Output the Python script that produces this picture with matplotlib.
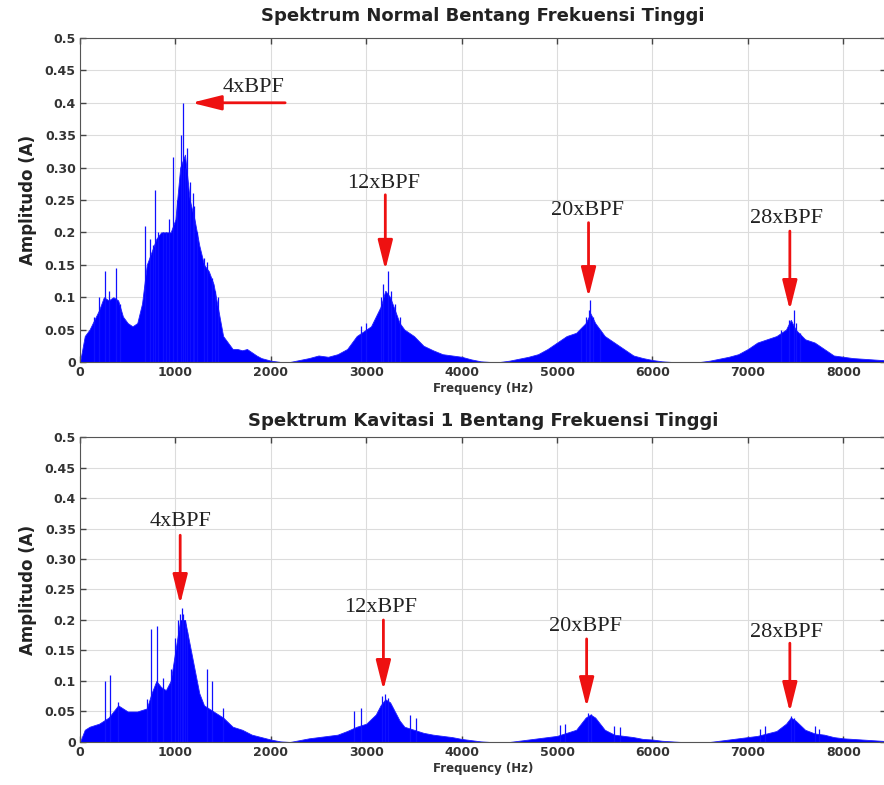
import matplotlib
matplotlib.use('Agg')
import matplotlib.pyplot as plt
import numpy as np

# spektrum normal - amplitudo envelope
freq_n = [0, 50, 100, 150, 200, 250, 300, 350, 400, 450, 500, 550, 600, 650, 700, 750, 800, 850, 900, 950,
          1000, 1050, 1100, 1150, 1200, 1250, 1300, 1350, 1400, 1450, 1500, 1550, 1600, 1650, 1700, 1750, 1800,
          1850, 1900, 1950, 2000, 2100, 2200, 2300, 2400, 2500, 2600, 2700, 2800, 2900, 3000, 3050, 3100, 3150,
          3200, 3250, 3300, 3350, 3400, 3450, 3500, 3600, 3700, 3800, 3900, 4000, 4100, 4200, 4300, 4400, 4500,
          4600, 4700, 4800, 4900, 5000, 5100, 5200, 5300, 5350, 5400, 5500, 5600, 5700, 5800, 5900, 6000, 6100,
          6200, 6500, 6600, 6700, 6800, 6900, 7000, 7100, 7200, 7300, 7400, 7450, 7500, 7600, 7700, 7800, 7900,
          8000, 8100, 8200, 8300, 8400, 8500]
amp_n = [0.0, 0.04, 0.05, 0.065, 0.08, 0.1, 0.095, 0.1, 0.095, 0.07, 0.06, 0.055, 0.06, 0.09, 0.15, 0.17, 0.19,
         0.2, 0.2, 0.2, 0.22, 0.3, 0.32, 0.25, 0.22, 0.18, 0.15, 0.14, 0.12, 0.08, 0.04, 0.03, 0.02, 0.02, 0.018,
         0.02, 0.015, 0.01, 0.006, 0.004, 0.002, 0.0, 0.0, 0.003, 0.006, 0.01, 0.008, 0.012, 0.02, 0.04, 0.05,
         0.055, 0.07, 0.085, 0.11, 0.1, 0.08, 0.06, 0.05, 0.045, 0.04, 0.025, 0.018, 0.012, 0.01, 0.008, 0.004,
         0.001, 0.0, 0.0, 0.002, 0.005, 0.008, 0.012, 0.02, 0.03, 0.04, 0.045, 0.06, 0.075, 0.06, 0.04, 0.03, 0.02,
         0.01, 0.006, 0.003, 0.001, 0.0, 0.0, 0.002, 0.005, 0.008, 0.012, 0.02, 0.03, 0.035, 0.04, 0.05, 0.065,
         0.05, 0.035, 0.03, 0.02, 0.01, 0.008, 0.006, 0.005, 0.004, 0.003, 0.002]
# puncak tajam
spike_fn = [150, 200, 267, 300, 379, 420, 684, 730, 760, 782, 820, 870, 900, 930, 975, 1020, 1060, 1080,
            1100, 1120, 1150, 1180, 1200, 1230, 1300, 1333, 1380, 1420, 1450,
            2950, 3000, 3150, 3180, 3230, 3260, 3300, 3350,
            5250, 5300, 5330, 5350, 5380, 5450, 7350, 7430, 7480, 7500, 7550]
spike_an = [0.07, 0.1, 0.14, 0.11, 0.145, 0.09, 0.21, 0.19, 0.18, 0.265, 0.2, 0.2, 0.2, 0.22, 0.317, 0.25,
            0.35, 0.40, 0.3, 0.33, 0.278, 0.26, 0.24, 0.2, 0.16, 0.155, 0.13, 0.11, 0.1,
            0.055, 0.06, 0.1, 0.12, 0.14, 0.11, 0.09, 0.07,
            0.05, 0.07, 0.08, 0.095, 0.07, 0.05, 0.05, 0.065, 0.08, 0.06, 0.045]

# spektrum kavitasi 1
freq_k = [0, 50, 100, 200, 300, 350, 400, 450, 500, 600, 700, 750, 800, 850, 900, 950, 1000, 1050, 1100, 1150,
          1200, 1250, 1300, 1350, 1400, 1450, 1500, 1600, 1700, 1800, 1900, 2000, 2100, 2200, 2300, 2400, 2500,
          2600, 2700, 2800, 2900, 3000, 3100, 3150, 3200, 3250, 3300, 3350, 3400, 3500, 3600, 3700, 3800, 3900,
          4000, 4100, 4200, 4300, 4500, 4600, 4700, 4800, 4900, 5000, 5100, 5200, 5300, 5350, 5400, 5500, 5600,
          5700, 5800, 5900, 6000, 6100, 6200, 6300, 6600, 6700, 6800, 6900, 7000, 7100, 7200, 7300, 7400, 7450,
          7500, 7600, 7700, 7800, 7900, 8000, 8100, 8200, 8300, 8400, 8500]
amp_k = [0.0, 0.02, 0.025, 0.03, 0.04, 0.05, 0.06, 0.055, 0.05, 0.05, 0.055, 0.08, 0.1, 0.09, 0.085, 0.1, 0.15,
         0.2, 0.2, 0.16, 0.12, 0.08, 0.06, 0.055, 0.05, 0.045, 0.04, 0.025, 0.02, 0.012, 0.008, 0.004, 0.001, 0.0,
         0.003, 0.006, 0.008, 0.01, 0.012, 0.018, 0.025, 0.03, 0.045, 0.06, 0.07, 0.065, 0.05, 0.035, 0.025, 0.02,
         0.015, 0.012, 0.01, 0.008, 0.005, 0.003, 0.001, 0.0, 0.0, 0.002, 0.004, 0.006, 0.008, 0.01, 0.015, 0.02,
         0.04, 0.045, 0.04, 0.02, 0.012, 0.01, 0.008, 0.005, 0.004, 0.002, 0.001, 0.0, 0.0, 0.002, 0.004, 0.006,
         0.008, 0.01, 0.014, 0.018, 0.03, 0.04, 0.035, 0.02, 0.014, 0.012, 0.008, 0.006, 0.005, 0.004, 0.003,
         0.002, 0.001]
spike_fk = [267, 319, 400, 700, 747, 807, 870, 950, 1000, 1030, 1045, 1065, 1080, 1100, 1120, 1326, 1382, 1500,
            2877, 2940, 3170, 3200, 3230, 3460, 3520, 5035, 5085, 5320, 5360, 5596, 5655,
            7130, 7180, 7450, 7480, 7700, 7750]
spike_ak = [0.10, 0.11, 0.065, 0.07, 0.185, 0.19, 0.105, 0.12, 0.17, 0.2, 0.21, 0.22, 0.21, 0.2, 0.18, 0.12,
            0.10, 0.055, 0.05, 0.055, 0.075, 0.078, 0.072, 0.045, 0.04, 0.028, 0.03, 0.047, 0.046, 0.027, 0.024,
            0.022, 0.026, 0.042, 0.04, 0.026, 0.022]

yticks = [0, 0.05, 0.1, 0.15, 0.2, 0.25, 0.3, 0.35, 0.4, 0.45, 0.5]
ytick_labels = ['0', '0.05', '0.1', '0.15', '0.2', '0.25', '0.30', '0.35', '0.4', '0.45', '0.5']
xticks = [0, 1000, 2000, 3000, 4000, 5000, 6000, 7000, 8000]

# label BPF: (teks, x teks, y teks, ekor panah, ujung panah)
labels_n = [('4xBPF', 1820, 0.423, (2150, 0.40), (1170, 0.40)),
            ('12xBPF', 3180, 0.276, (3200, 0.258), (3200, 0.142)),
            ('20xBPF', 5320, 0.233, (5330, 0.215), (5330, 0.10)),
            ('28xBPF', 7400, 0.221, (7440, 0.202), (7440, 0.08))]
labels_k = [('4xBPF', 1050, 0.361, (1050, 0.339), (1050, 0.226)),
            ('12xBPF', 3150, 0.22, (3180, 0.20), (3180, 0.085)),
            ('20xBPF', 5300, 0.189, (5310, 0.169), (5310, 0.057)),
            ('28xBPF', 7400, 0.18, (7440, 0.162), (7440, 0.049))]

sans = ['DejaVu Sans']
serif = ['Liberation Serif', 'DejaVu Serif']

fig = plt.figure(figsize=(8.84, 7.85), dpi=100)
ax1 = fig.add_axes([0.0905, 0.5389, 0.912, 0.4127])
ax2 = fig.add_axes([0.0905, 0.0548, 0.912, 0.3885])


def draw(ax, f, a, sf, sa, labels, title, pad):
    ax.fill_between(f, 0, a, color='#0000ff', lw=0.6, edgecolor='#2020ff')
    ax.vlines(sf, 0, sa, color='#1010ff', lw=0.9)
    ax.set_xlim(0, 8450)
    ax.set_ylim(0, 0.5)
    ax.set_xticks(xticks)
    ax.set_xticklabels([str(x) for x in xticks], family=sans, fontsize=9, fontweight='bold', color='#333333')
    ax.set_yticks(yticks)
    ax.set_yticklabels(ytick_labels, family=sans, fontsize=9, fontweight='bold', color='#333333')
    ax.tick_params(direction='in', top=True, right=True, length=4, width=1, color='#444444', pad=3)
    ax.grid(True, color='#dcdcdc', lw=0.8)
    ax.set_axisbelow(True)
    for s in ax.spines.values():
        s.set_color('#555555')
    ax.set_xlabel('Frequency (Hz)', family=sans, fontsize=8.5, fontweight='bold', color='#333333', labelpad=2)
    ax.set_ylabel('Amplitudo (A)', family=sans, fontsize=12, fontweight='bold', color='#222222', labelpad=6)
    ax.set_title(title, family=sans, fontsize=13, fontweight='bold', color='#222222', pad=pad)
    for txt, tx, ty, tail, tip in labels:
        ax.text(tx, ty, txt, family=serif, fontsize=16, color='#222222', ha='center', va='center')
        ax.annotate('', xy=tip, xytext=tail,
                    arrowprops=dict(arrowstyle='-|>,head_width=0.3,head_length=1.2',
                                    color='#ee1111', lw=2, mutation_scale=15,
                                    shrinkA=0, shrinkB=0))


draw(ax1, freq_n, amp_n, spike_fn, spike_an, labels_n, 'Spektrum Normal Bentang Frekuensi Tinggi', 12)
draw(ax2, freq_k, amp_k, spike_fk, spike_ak, labels_k, 'Spektrum Kavitasi 1 Bentang Frekuensi Tinggi', 8)

plt.savefig('out.png', dpi=100)
